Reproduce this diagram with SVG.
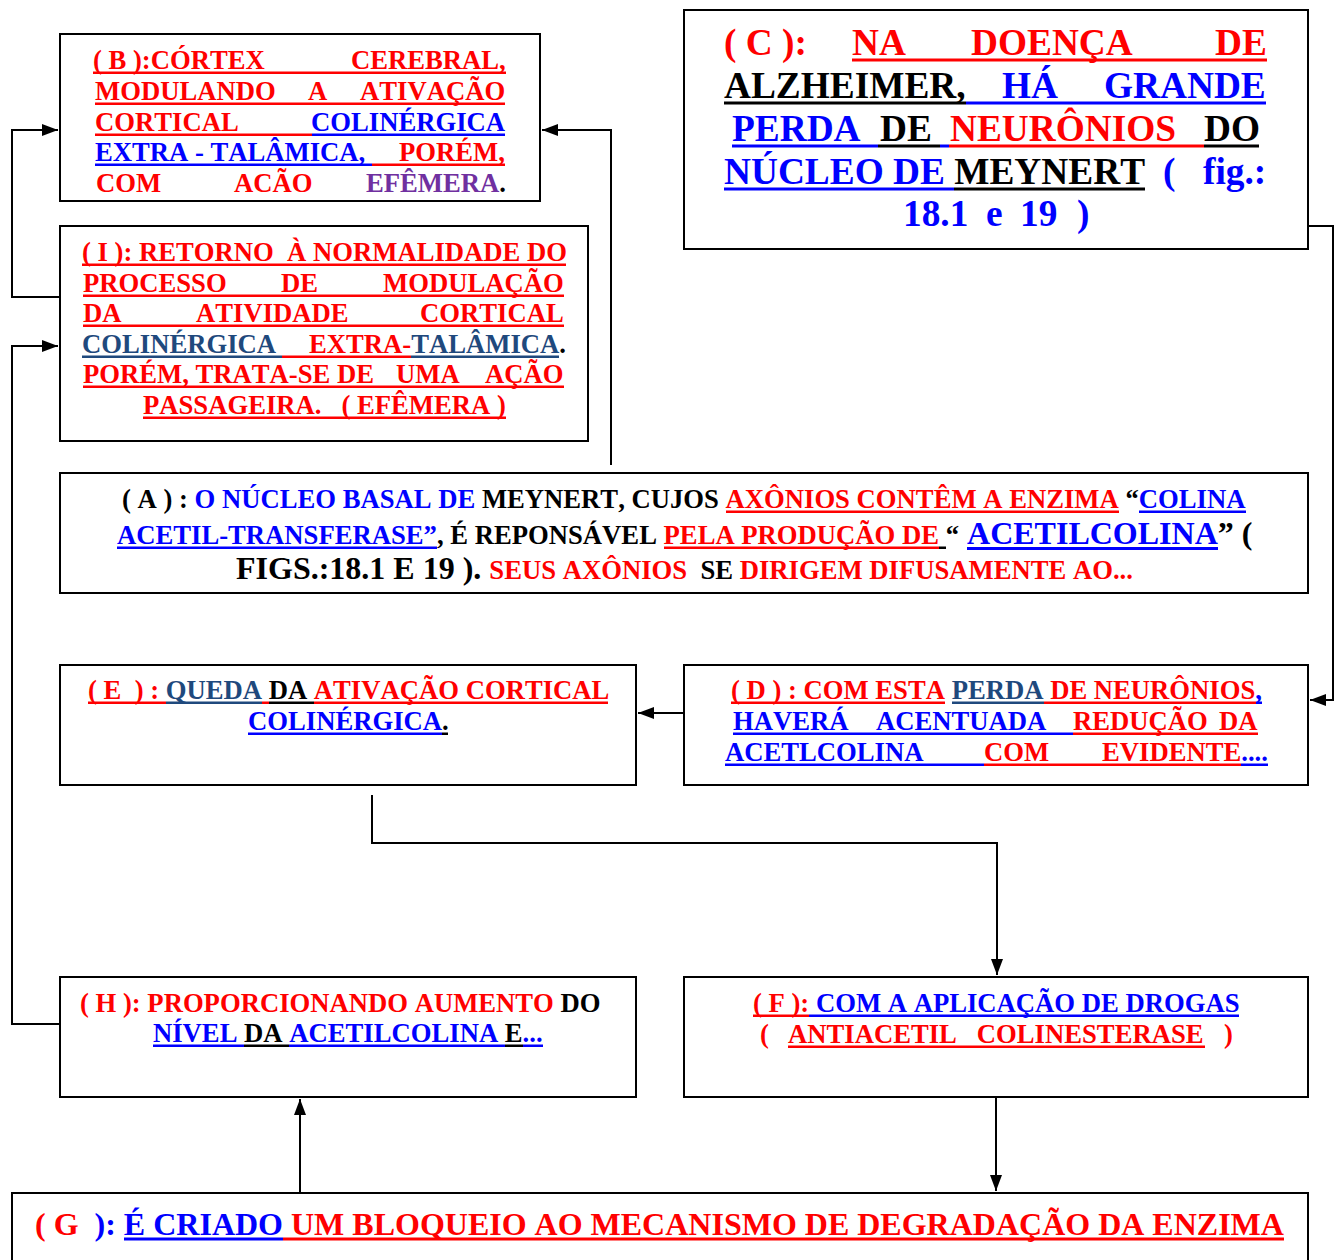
<svg xmlns="http://www.w3.org/2000/svg" width="1336" height="1260" viewBox="0 0 1336 1260">
  <style>
    .box { fill: #fff; stroke: #000; stroke-width: 2; }
    .t { font-family: "Liberation Serif", "Times New Roman", serif; font-weight: bold; white-space: pre; font-kerning: none; font-feature-settings: "kern" 0, "liga" 0; }
    .s20 { font-size: 26.67px; }
    .s24 { font-size: 32px; }
    .s28 { font-size: 37.33px; }
    .r { fill: #ff0000; }
    .b { fill: #0000ff; }
    .k { fill: #000000; }
    .n { fill: #1f497d; }
    .p { fill: #7030a0; }
    .wire { fill: none; stroke: #000; stroke-width: 2; }
  </style>
  <defs>
    <marker id="arrow" markerUnits="userSpaceOnUse" markerWidth="16" markerHeight="12" refX="16" refY="6" orient="auto">
      <path d="M0,0 L16,6 L0,12 Z" fill="#000"/>
    </marker>
  </defs>
  <rect width="1336" height="1260" fill="#fff"/>

  <!-- connectors -->
  <g id="connectors">
    <polyline class="wire" points="611,465 611,130 542,130" marker-end="url(#arrow)"/>
    <polyline class="wire" points="60,297 12,297 12,130 58,130" marker-end="url(#arrow)"/>
    <polyline class="wire" points="60,1024 12,1024 12,346 58,346" marker-end="url(#arrow)"/>
    <polyline class="wire" points="1308,226 1333,226 1333,700 1310,700" marker-end="url(#arrow)"/>
    <polyline class="wire" points="684,713 638,713" marker-end="url(#arrow)"/>
    <polyline class="wire" points="372,795 372,843 997,843 997,975" marker-end="url(#arrow)"/>
    <polyline class="wire" points="996,1097 996,1191" marker-end="url(#arrow)"/>
    <polyline class="wire" points="300,1193 300,1099" marker-end="url(#arrow)"/>
  </g>

  <!-- B: cortex -->
  <g id="node-b">
    <rect class="box" x="60" y="34" width="480" height="167"/>
    <text class="t s20 r" y="69"><tspan x="93">( B ):CÓRTEX</tspan><tspan x="351">CEREBRAL,</tspan></text>
    <text class="t s20 r" y="100"><tspan x="95">MODULANDO</tspan><tspan x="308">A</tspan><tspan x="360">ATIVAÇÃO</tspan></text>
    <text class="t s20" y="131"><tspan class="r" x="95">CORTICAL</tspan><tspan class="b" x="311">COLINÉRGICA</tspan></text>
    <text class="t s20" y="161"><tspan class="b" x="95">EXTRA - TALÂMICA,</tspan><tspan class="r" x="399">PORÉM,</tspan></text>
    <text class="t s20" y="192"><tspan class="r" x="96">COM</tspan><tspan class="r" x="234">ACÃO</tspan><tspan class="p" x="366">EFÊMERA</tspan><tspan class="k">.</tspan></text>
    <rect class="r" x="93" y="71.5" width="413" height="2.5"/>
    <rect class="r" x="95" y="102.5" width="410" height="2.5"/>
    <rect class="r" x="95" y="133.5" width="217" height="2.5"/>
    <rect class="b" x="312" y="133.5" width="193" height="2.5"/>
    <rect class="b" x="95" y="163.5" width="277" height="2.5"/>
    <rect class="r" x="372" y="163.5" width="133" height="2.5"/>
  </g>

  <!-- I: return to normal -->
  <g id="node-i">
    <rect class="box" x="60" y="226" width="528" height="215"/>
    <text class="t s20 r" x="82" y="261">( I ): RETORNO  À NORMALIDADE DO</text>
    <text class="t s20 r" y="292"><tspan x="83">PROCESSO</tspan><tspan x="281">DE</tspan><tspan x="383">MODULAÇÃO</tspan></text>
    <text class="t s20 r" y="322"><tspan x="83">DA</tspan><tspan x="196">ATIVIDADE</tspan><tspan x="420">CORTICAL</tspan></text>
    <text class="t s20" y="353"><tspan class="n" x="82">COLINÉRGICA</tspan><tspan class="r" x="309">EXTRA-</tspan><tspan class="n">TALÂMICA</tspan><tspan class="k">.</tspan></text>
    <text class="t s20 r" y="383"><tspan x="83">PORÉM, TRATA-SE DE</tspan><tspan x="396">UMA</tspan><tspan x="485">AÇÃO</tspan></text>
    <text class="t s20 r" x="143" y="414">PASSAGEIRA.   ( EFÊMERA )</text>
    <rect class="r" x="82" y="263.5" width="484" height="2.5"/>
    <rect class="r" x="83" y="294.5" width="481" height="2.5"/>
    <rect class="r" x="83" y="324.5" width="481" height="2.5"/>
    <rect class="n" x="82" y="355.5" width="200" height="2.5"/>
    <rect class="r" x="282" y="355.5" width="129" height="2.5"/>
    <rect class="n" x="411" y="355.5" width="148" height="2.5"/>
    <rect class="r" x="83" y="385.5" width="481" height="2.5"/>
    <rect class="r" x="143" y="416.5" width="363" height="2.5"/>
  </g>

  <!-- C: Alzheimer -->
  <g id="node-c">
    <rect class="box" x="684" y="10" width="624" height="239"/>
    <text class="t s28 r" y="55"><tspan x="724">( C ):</tspan><tspan x="852">NA</tspan><tspan x="971">DOENÇA</tspan><tspan x="1215">DE</tspan></text>
    <text class="t s28" y="98"><tspan class="k" x="724">ALZHEIMER,</tspan><tspan class="b" x="1002">HÁ</tspan><tspan class="b" x="1104">GRANDE</tspan></text>
    <text class="t s28" y="141"><tspan class="b" x="732">PERDA</tspan><tspan class="k" x="880">DE</tspan><tspan class="r" x="950">NEURÔNIOS</tspan><tspan class="k" x="1204">DO</tspan></text>
    <text class="t s28" y="184"><tspan class="b" x="724">NÚCLEO DE </tspan><tspan class="k">MEYNERT</tspan><tspan class="b" x="1163">(</tspan><tspan class="b" x="1203">fig.:</tspan></text>
    <text class="t s28 b" y="226"><tspan x="903">18.1</tspan><tspan x="986">e</tspan><tspan x="1020">19</tspan><tspan x="1077">)</tspan></text>
    <rect class="r" x="852" y="58.5" width="415" height="3"/>
    <rect class="k" x="724" y="101.5" width="242" height="3"/>
    <rect class="b" x="966" y="101.5" width="300" height="3"/>
    <rect class="b" x="732" y="144.5" width="146" height="3"/>
    <rect class="k" x="878" y="144.5" width="62" height="3"/>
    <rect class="b" x="940" y="144.5" width="9" height="3"/>
    <rect class="r" x="949" y="144.5" width="255" height="3"/>
    <rect class="k" x="1204" y="144.5" width="55" height="3"/>
    <rect class="b" x="724" y="187.5" width="230" height="3"/>
    <rect class="k" x="954" y="187.5" width="191" height="3"/>
  </g>

  <!-- A: basal nucleus of Meynert -->
  <g id="node-a">
    <rect class="box" x="60" y="473" width="1248" height="120"/>
    <text class="t s20" x="122" y="508"><tspan class="k">( A ) : </tspan><tspan class="b">O NÚCLEO BASAL DE</tspan><tspan class="k"> MEYNERT, CUJOS </tspan><tspan class="r">AXÔNIOS CONTÊM A ENZIMA</tspan><tspan class="k"> “</tspan><tspan class="b">COLINA</tspan></text>
    <text class="t s20" x="117" y="544"><tspan class="b">ACETIL-TRANSFERASE”</tspan><tspan class="k">, É REPONSÁVEL </tspan><tspan class="r">PELA PRODUÇÃO DE</tspan><tspan class="k"> “</tspan><tspan class="k s24"> </tspan><tspan class="b s24">ACETILCOLINA</tspan><tspan class="k s24">” (</tspan></text>
    <text class="t s20" x="236" y="579"><tspan class="k s24">FIGS.:18.1 E 19 ). </tspan><tspan class="r">SEUS AXÔNIOS</tspan><tspan class="k">  SE </tspan><tspan class="r">DIRIGEM DIFUSAMENTE AO...</tspan></text>
    <rect class="r" x="726" y="510.5" width="393" height="2.5"/>
    <rect class="b" x="1139" y="510.5" width="107" height="2.5"/>
    <rect class="b" x="117" y="546.5" width="320" height="2.5"/>
    <rect class="r" x="664" y="546.5" width="275" height="2.5"/>
    <rect class="k" x="939" y="546.5" width="7" height="2.5"/>
    <rect class="b" x="967" y="547" width="251" height="3"/>
  </g>

  <!-- E: drop of cholinergic activation -->
  <g id="node-e">
    <rect class="box" x="60" y="665" width="576" height="120"/>
    <text class="t s20" x="88" y="699"><tspan class="r">( E  ) : </tspan><tspan class="n">QUEDA</tspan><tspan class="k"> DA </tspan><tspan class="r">ATIVAÇÃO CORTICAL</tspan></text>
    <text class="t s20" x="248" y="730"><tspan class="b">COLINÉRGICA</tspan><tspan class="k">.</tspan></text>
    <rect class="r" x="88" y="701.5" width="78" height="2.5"/>
    <rect class="n" x="166" y="701.5" width="96" height="2.5"/>
    <rect class="r" x="262" y="701.5" width="7" height="2.5"/>
    <rect class="k" x="269" y="701.5" width="45" height="2.5"/>
    <rect class="r" x="314" y="701.5" width="294" height="2.5"/>
    <rect class="b" x="248" y="732.5" width="194" height="2.5"/>
    <rect class="k" x="442" y="732.5" width="6" height="2.5"/>
  </g>

  <!-- D: loss of neurons -->
  <g id="node-d">
    <rect class="box" x="684" y="665" width="624" height="120"/>
    <text class="t s20" x="731" y="699"><tspan class="r">( D ) : COM ESTA </tspan><tspan class="n">PERDA</tspan><tspan class="r"> DE NEURÔNIOS</tspan><tspan class="b">,</tspan></text>
    <text class="t s20" y="730"><tspan class="b" x="733">HAVERÁ</tspan><tspan class="b" x="876">ACENTUADA</tspan><tspan class="r" x="1073">REDUÇÃO</tspan><tspan class="r" x="1219">DA</tspan></text>
    <text class="t s20" y="761"><tspan class="b" x="725">ACETLCOLINA</tspan><tspan class="r" x="984">COM</tspan><tspan class="r" x="1102">EVIDENTE</tspan><tspan class="b">....</tspan></text>
    <rect class="r" x="731" y="701.5" width="214" height="2.5"/>
    <rect class="n" x="952" y="701.5" width="92" height="2.5"/>
    <rect class="r" x="1044" y="701.5" width="212" height="2.5"/>
    <rect class="b" x="1256" y="701.5" width="6" height="2.5"/>
    <rect class="b" x="733" y="732.5" width="340" height="2.5"/>
    <rect class="r" x="1073" y="732.5" width="185" height="2.5"/>
    <rect class="b" x="725" y="763.5" width="259" height="2.5"/>
    <rect class="r" x="984" y="763.5" width="257" height="2.5"/>
    <rect class="b" x="1241" y="763.5" width="27" height="2.5"/>
  </g>

  <!-- H: increase of acetylcholine -->
  <g id="node-h">
    <rect class="box" x="60" y="977" width="576" height="120"/>
    <text class="t s20" x="80" y="1012"><tspan class="r">( H ): PROPORCIONANDO AUMENTO</tspan><tspan class="k"> DO</tspan></text>
    <text class="t s20" x="153" y="1042"><tspan class="b">NÍVEL</tspan><tspan class="k"> DA </tspan><tspan class="b">ACETILCOLINA</tspan><tspan class="k"> E</tspan><tspan class="b">...</tspan></text>
    <rect class="b" x="153" y="1044.5" width="91" height="2.5"/>
    <rect class="k" x="244" y="1044.5" width="45" height="2.5"/>
    <rect class="b" x="289" y="1044.5" width="216" height="2.5"/>
    <rect class="k" x="505" y="1044.5" width="18" height="2.5"/>
    <rect class="b" x="523" y="1044.5" width="20" height="2.5"/>
  </g>

  <!-- F: cholinesterase inhibitors -->
  <g id="node-f">
    <rect class="box" x="684" y="977" width="624" height="120"/>
    <text class="t s20" x="753" y="1012"><tspan class="r">( F ):</tspan><tspan class="b"> COM A APLICAÇÃO DE DROGAS</tspan></text>
    <text class="t s20 r" y="1043"><tspan x="760">(</tspan><tspan x="788">ANTIACETIL   COLINESTERASE</tspan><tspan x="1224">)</tspan></text>
    <rect class="r" x="753" y="1014.5" width="56" height="2.5"/>
    <rect class="b" x="809" y="1014.5" width="430" height="2.5"/>
    <rect class="r" x="788" y="1045.5" width="417" height="2.5"/>
  </g>

  <!-- G: blocking of enzyme degradation -->
  <g id="node-g">
    <rect class="box" x="12" y="1193" width="1296" height="90"/>
    <text class="t s24" x="35" y="1235"><tspan class="r">( G  </tspan><tspan class="b">): </tspan><tspan class="b">É CRIADO</tspan><tspan class="r"> UM BLOQUEIO AO MECANISMO DE DEGRADAÇÃO DA ENZIMA</tspan></text>
    <rect class="b" x="124" y="1237.5" width="159" height="3"/>
    <rect class="r" x="283" y="1237.5" width="1001" height="3"/>
  </g>
</svg>
